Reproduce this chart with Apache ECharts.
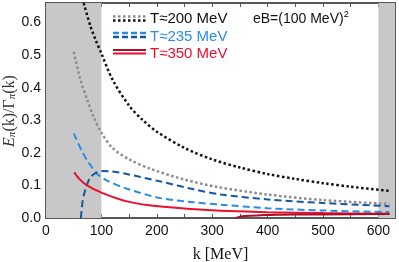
<!DOCTYPE html>
<html><head><meta charset="utf-8">
<script src="https://cdn.jsdelivr.net/npm/echarts@6/dist/echarts.min.js"></script>
<style>html,body{margin:0;padding:0;background:#fff}#c{width:399px;height:262px}</style>
</head><body><div id="c"></div>
<script>
// Data (k in MeV, ratio E/Γ)
const blackK = [68,80,90,100,120,150,175,200,250,300,350,400,450,500,550,620];
const blackE = [0.66,0.59,0.545,0.505,0.425,0.345,0.30,0.265,0.215,0.18,0.155,0.135,0.12,0.107,0.096,0.083];
const grayK = [50,62,75,86,100,120,150,190,250,310,400,500,620];
const grayE = [0.51,0.425,0.36,0.31,0.262,0.215,0.18,0.15,0.118,0.095,0.072,0.055,0.043];
const lblueK = [50,65,75,92,110,146,207,267,316,400,500,620];
const lblueE = [0.26,0.205,0.175,0.136,0.115,0.09,0.061,0.048,0.041,0.03,0.023,0.018];
const dblueK = [63,66,71,80,92,101,120,146,207,267,316,400,500,620];
const dblueE = [0,0.05,0.087,0.125,0.14,0.144,0.143,0.135,0.112,0.088,0.072,0.057,0.046,0.036];
const redK = [51,60,74,101,146,207,316,400,500,620];
const redE = [0.14,0.12,0.1,0.077,0.051,0.035,0.022,0.018,0.015,0.013];
const dredK = [343,350,360,380,400,450,500,620];
const dredE = [0,0.004,0.006,0.008,0.009,0.011,0.011,0.012];
const shadeRanges = [[0,100],[600,630]];
const legendLabels = ['T≈200 MeV','T≈235 MeV','T≈350 MeV'];
const fieldLabel = 'eB=(100 MeV)';

const zip = (a,b) => a.map((v,i)=>[v,b[i]]);
const chart = echarts.init(document.getElementById('c'), null, {renderer:'canvas'});
const sans = 'Liberation Sans, Arial, sans-serif';
const serif = 'Liberation Serif, Times New Roman, serif';
const axCol = '#222';
function xAx(pos, show){
  return {type:'value', position:pos, min:0, max:630, interval:100,
    axisLine:{show:true, onZero:false, lineStyle:{color:axCol,width:1.5}},
    axisTick:{show:true, inside:true, length:4, lineStyle:{color:'#555'}},
    minorTick:{show:true, splitNumber:2, length:4, lineStyle:{color:'#555'}},
    splitLine:{show:false},
    axisLabel:{show:show, showMaxLabel:false, color:'#111', fontFamily:sans, fontSize:14, margin:6},
    name: show ? 'k [MeV]' : '', nameLocation:'middle', nameGap:29,
    nameTextStyle:{fontFamily:serif, fontSize:16, color:'#111'}};
}
function yAx(pos, show){
  return {type:'value', position:pos, min:0, max:0.66, interval:0.1,
    axisLine:{show:true, onZero:false, lineStyle:{color:axCol,width:1.5}},
    axisTick:{show:true, inside:true, length:4, lineStyle:{color:'#555'}},
    minorTick:{show:true, splitNumber:2, length:4, lineStyle:{color:'#555'}},
    splitLine:{show:false},
    axisLabel:{show:show, showMaxLabel:false, color:'#111', fontFamily:sans, fontSize:14, margin:5,
      formatter:v=>v.toFixed(1)}};
}
function line(k,e,color,width,dash){
  return {type:'line', data:zip(k,e), showSymbol:false, smooth:0.3,
    lineStyle:{color:color, width:width, type:dash}, z:3, silent:true};
}
const series = [
  {type:'line', data:[], markArea:{silent:true, itemStyle:{color:'#c8c8c8'},
     data: shadeRanges.map(r=>[{xAxis:r[0]},{xAxis:r[1]}])}, z:1},
  line(blackK, blackE, '#111', 2.5, [2.5,2.5]),
  line(grayK, grayE, '#8c8c8c', 2.5, [2.5,2.5]),
  line(lblueK, lblueE, '#2a8ce6', 2, [7,4]),
  line(dblueK, dblueE, '#1458a0', 2, [7,4]),
  line(redK, redE, '#e8102c', 2, 'solid'),
  line(dredK, dredE, '#a8102a', 2, 'solid')
];
// legend graphics
const lx0=113, lx1=146, tx=150;
const rows = [
  {y:[16.5,20.5], c:['#8c8c8c','#111'], dash:[2.5,2.5], w:2.5, tc:'#111', ty:19},
  {y:[33,37], c:['#2a8ce6','#1458a0'], dash:[6,3], w:2.5, tc:'#2a8ce6', ty:37},
  {y:[50,53.5], c:['#a8102a','#e8102c'], dash:null, w:2.2, tc:'#e8102c', ty:54}
];
const graphic = [];
rows.forEach((r,i)=>{
  r.y.forEach((yy,j)=>graphic.push({type:'line', shape:{x1:lx0,y1:yy,x2:lx1,y2:yy},
    style:{stroke:r.c[j], lineWidth:r.w, lineDash:r.dash||null}, z:10}));
  graphic.push({type:'text', x:tx, y:r.ty, style:{text:legendLabels[i], fill:r.tc, font:'15px '+sans, textVerticalAlign:'middle'}, z:10});
});
graphic.push({type:'text', x:253, y:19, style:{text:'{a|'+fieldLabel+'}{b|2}', textVerticalAlign:'middle',
  rich:{a:{fontFamily:sans,fontSize:14,fill:'#111', color:'#111'}, b:{fontFamily:sans,fontSize:9,color:'#111',verticalAlign:'top',padding:[0,0,8,0]}}}, z:10});
// y-axis title
graphic.push({type:'text', x:10, y:111, rotation:Math.PI/2, z:10,
  style:{text:'{i|E}{s|π}{n|(k)/Γ}{s|π}{n|(k)}', align:'center', verticalAlign:'middle',
    rich:{
      i:{fontFamily:serif, fontStyle:'italic', fontSize:16, fill:'#333'},
      n:{fontFamily:serif, fontSize:16, fill:'#333'},
      s:{fontFamily:serif, fontStyle:'italic', fontSize:11, fill:'#333', verticalAlign:'bottom', padding:[5,0,0,0]}}}});

chart.setOption({
  animation:false,
  grid:{left:46, right:4, top:3, bottom:44, show:false, outerBoundsMode:'none', containLabel:false},
  xAxis:[xAx('bottom',true), xAx('top',false)],
  yAxis:[yAx('left',true), yAx('right',false)],
  series: series,
  graphic: graphic
});
</script></body></html>
